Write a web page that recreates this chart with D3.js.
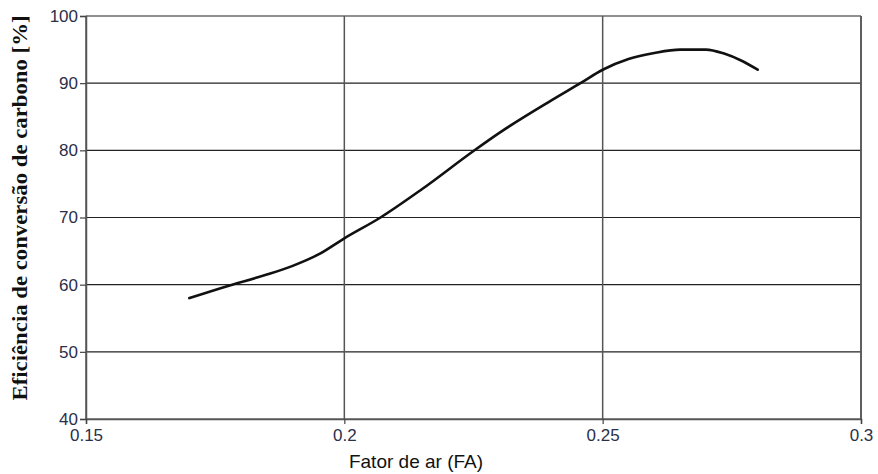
<!DOCTYPE html>
<html>
<head>
<meta charset="utf-8">
<script src="https://cdn.jsdelivr.net/npm/d3@7"></script>
<style>
	body { margin: 0; background: #fff; }
	svg { display: block; }
</style>
</head>
<body>
<svg id="chart" width="878" height="474"></svg>
<script>
"use strict"

// eficiencia de conversao de carbono vs fator de ar
var fa = [0.170, 0.177, 0.185, 0.190, 0.195, 0.200, 0.207, 0.215, 0.225, 0.230, 0.240, 0.2457, 0.250, 0.255, 0.260, 0.265, 0.270, 0.2735, 0.277, 0.280];
var eficiencia = [58.0, 59.7, 61.5, 62.8, 64.5, 66.9, 70.0, 74.2, 79.9, 82.6, 87.4, 90.0, 92.0, 93.6, 94.5, 95.0, 95.0, 94.4, 93.3, 92.0];
var xTicks = [0.15, 0.2, 0.25, 0.3];
var xTickLabels = ["0.15", "0.2", "0.25", "0.3"];
var yTicks = [40, 50, 60, 70, 80, 90, 100];

var plotLeft = 86, plotTop = 16, plotRight = 861, plotBottom = 419;

var svg = d3.select("#chart");

var x = d3.scaleLinear().domain([0.15, 0.3]).range([plotLeft, plotRight]);
var y = d3.scaleLinear().domain([40, 100]).range([plotBottom, plotTop]);

// horizontal grid
svg.append("g")
	.selectAll("line")
	.data(yTicks)
	.enter()
	.append("line")
	.attr("x1", plotLeft)
	.attr("x2", plotRight)
	.attr("y1", function(d) { return y(d); })
	.attr("y2", function(d) { return y(d); })
	.attr("stroke", "#222")
	.attr("stroke-width", 1.2)
	;
// vertical grid
svg.append("g")
	.selectAll("line")
	.data(xTicks)
	.enter()
	.append("line")
	.attr("x1", function(d) { return x(d); })
	.attr("x2", function(d) { return x(d); })
	.attr("y1", plotTop)
	.attr("y2", plotBottom)
	.attr("stroke", "#555")
	.attr("stroke-width", 1.5)
	;

var yAxis = svg.append("g")
	.attr("transform", "translate(" + plotLeft + ",0)")
	.call(d3.axisLeft(y).tickValues(yTicks).tickSize(6).tickPadding(2));
var xAxis = svg.append("g")
	.attr("transform", "translate(0," + plotBottom + ")")
	.call(d3.axisBottom(x).tickValues(xTicks).tickSize(5).tickPadding(5)
		.tickFormat(function(d, i) { return xTickLabels[i]; }));

[yAxis, xAxis].forEach(function(ax) {
	ax.select(".domain").attr("stroke", "#555").attr("stroke-width", 1.5);
	ax.selectAll(".tick line").attr("stroke", "#444").attr("stroke-width", 1.2);
	ax.selectAll("text")
		.attr("font-family", "Liberation Sans, Arial, sans-serif")
		.attr("font-size", 17)
		.attr("fill", "#2b2f4a");
});

// right border
svg.append("line")
	.attr("x1", plotRight).attr("x2", plotRight)
	.attr("y1", plotTop).attr("y2", plotBottom)
	.attr("stroke", "#555").attr("stroke-width", 1.5);

var line = d3.line()
	.x(function(d, i) { return x(fa[i]); })
	.y(function(d) { return y(d); })
	.curve(d3.curveMonotoneX);

svg.append("path")
	.datum(eficiencia)
	.attr("d", line)
	.attr("fill", "none")
	.attr("stroke", "#111")
	.attr("stroke-width", 2.6)
	.attr("stroke-linecap", "round")
	;

svg.append("text")
	.attr("x", 416)
	.attr("y", 468)
	.attr("text-anchor", "middle")
	.attr("font-family", "Liberation Sans, Arial, sans-serif")
	.attr("font-size", 19)
	.attr("fill", "#111")
	.text("Fator de ar (FA)");

svg.append("text")
	.attr("transform", "translate(27,208) rotate(-90)")
	.attr("text-anchor", "middle")
	.attr("font-family", "Liberation Serif, Times New Roman, serif")
	.attr("font-weight", "bold")
	.attr("font-size", 21)
	.attr("textLength", 385)
	.attr("lengthAdjust", "spacingAndGlyphs")
	.attr("fill", "#111")
	.text("Eficiência de conversão de carbono [%]");
</script>
</body>
</html>
